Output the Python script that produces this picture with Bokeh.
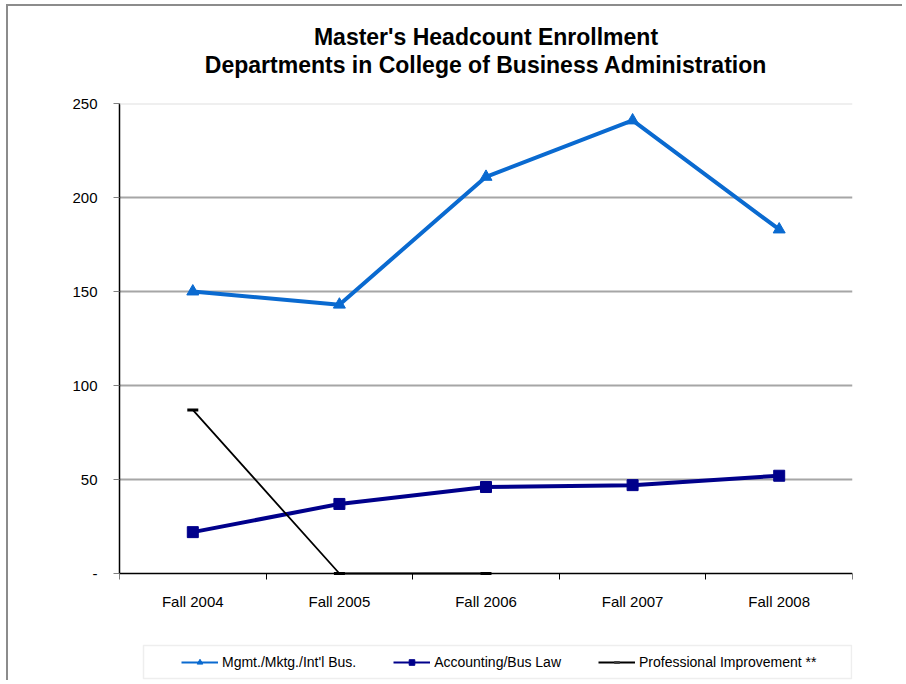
from bokeh.plotting import figure
from bokeh.models import (FixedTicker, Legend, LegendItem, Title, Span, Range1d, BoxAnnotation)
from bokeh.embed import file_html
from bokeh.resources import INLINE

categories = ["Fall 2004", "Fall 2005", "Fall 2006", "Fall 2007", "Fall 2008"]
mgmt = [150, 143, 211, 241, 183]
accounting = [22, 37, 46, 47, 52]
prof_categories = ["Fall 2004", "Fall 2005", "Fall 2006"]
professional = [87, 0, 0]
y_ticks = [0, 50, 100, 150, 200, 250]
y_tick_labels = ["-", "50", "100", "150", "200", "250"]
series_names = ["Mgmt./Mktg./Int'l Bus.", "Accounting/Bus Law", "Professional Improvement **"]
title_lines = ["Master's Headcount Enrollment", "Departments in College of Business Administration"]

pos = {c: i + 0.5 for i, c in enumerate(categories)}
x_all = [pos[c] for c in categories]
x_prof = [pos[c] for c in prof_categories]

FONT = "Liberation Sans"
NAN = [float("nan")]   # legend-key proxies: nothing is drawn in the plot area

# layout (pixels)
FRAME_W = 733
DATA_H = 470        # height used by the 0..250 value band
EXTRA_H = 107       # area below zero that holds the tick labels and legend
Y_MAX = 250
y_min = -EXTRA_H * Y_MAX / DATA_H
PX_X = FRAME_W / len(categories)
PX_Y = DATA_H / Y_MAX

p = figure(frame_width=FRAME_W, frame_height=DATA_H + EXTRA_H, output_backend="svg", toolbar_location=None,
           x_range=Range1d(0, len(categories)), y_range=Range1d(y_min, Y_MAX),
           min_border_left=111, min_border_right=50, min_border_top=97, min_border_bottom=0)
p.styles = {"border-left": "2px solid #8c8c8c", "border-top": "2px solid #8c8c8c",
            "margin-left": "6px", "margin-top": "4px"}
p.background_fill_color = "white"
p.border_fill_color = "white"
p.outline_line_color = None
p.title = None

spacer = Title(text=" ", text_font=FONT, text_font_size="2px", standoff=22)
t2 = Title(text=title_lines[1], align="center",
           text_font=FONT, text_font_size="23px", text_font_style="bold",
           text_color="black", standoff=0)
t1 = Title(text=title_lines[0], align="center",
           text_font=FONT, text_font_size="23px", text_font_style="bold",
           text_color="black", standoff=0)
p.add_layout(spacer, "above")
p.add_layout(t2, "above")
p.add_layout(t1, "above")

# axes
p.xaxis.fixed_location = 0
p.xaxis.ticker = FixedTicker(ticks=x_all, minor_ticks=list(range(len(categories) + 1)))
p.xaxis.major_label_overrides = {pos[c]: c for c in categories}
p.xaxis.major_tick_out = 0
p.xaxis.major_tick_in = 0
p.xaxis.minor_tick_out = 6
p.xaxis.minor_tick_in = 0
p.xaxis.minor_tick_line_color = "black"
p.xaxis.axis_line_color = "black"
p.xaxis.axis_line_width = 1.5
p.xaxis.major_label_standoff = 13
p.xaxis.major_label_text_font = FONT
p.xaxis.major_label_text_font_size = "15px"
p.xaxis.major_label_text_color = "black"

p.yaxis.bounds = (0, Y_MAX)
p.yaxis.ticker = FixedTicker(ticks=y_ticks, minor_ticks=[])
p.yaxis.major_label_overrides = {t: l for t, l in zip(y_ticks, y_tick_labels)}
p.yaxis.major_tick_out = 6
p.yaxis.major_tick_in = 0
p.yaxis.major_tick_line_color = "#808080"
p.yaxis.axis_line_color = "black"
p.yaxis.axis_line_width = 1.5
p.yaxis.major_label_standoff = 16
p.yaxis.major_label_text_font = FONT
p.yaxis.major_label_text_font_size = "15px"
p.yaxis.major_label_text_color = "black"

p.xgrid.visible = False
p.ygrid.ticker = FixedTicker(ticks=[50, 100, 150, 200])
p.ygrid.grid_line_color = "#a6a6a6"
p.ygrid.grid_line_width = 2
p.add_layout(Span(location=Y_MAX, dimension="width", line_color="#e0e0e0", line_width=2))

# series
mgmt_color = "#0A6AD0"
acct_color = "#00008B"

p.line(x_all, mgmt, line_color=mgmt_color, line_width=4)
p.scatter(x_all, mgmt, marker="triangle", size=12, fill_color=mgmt_color, line_color=mgmt_color)
p.line(x_all, accounting, line_color=acct_color, line_width=4)
p.scatter(x_all, accounting, marker="square", size=11, fill_color=acct_color, line_color=acct_color)
p.line(x_prof, professional, line_color="black", line_width=1.8)
p.scatter(x_prof, professional, marker="dash", size=11, line_color="black", line_width=3)

# legend keys (thinner, as in the reference legend)
k1l = p.line(NAN, NAN, line_color=mgmt_color, line_width=2)
k1m = p.scatter(NAN, NAN, marker="triangle", size=9, fill_color=mgmt_color, line_color=mgmt_color)
k2l = p.line(NAN, NAN, line_color=acct_color, line_width=2)
k2m = p.scatter(NAN, NAN, marker="square", size=8, fill_color=acct_color, line_color=acct_color)
k3l = p.line(NAN, NAN, line_color="black", line_width=2)
k3m = p.scatter(NAN, NAN, marker="dash", size=8, line_color="#404040", line_width=3)

# legend frame
p.add_layout(BoxAnnotation(left=(143 - 119) / PX_X, right=(851 - 119) / PX_X,
                           top=-(645 - 573) / PX_Y, bottom=-(678 - 573) / PX_Y,
                           fill_color="white", fill_alpha=1.0,
                           line_color="#c8c8c8", line_width=1.5))

legend = Legend(items=[
    LegendItem(label=series_names[0], renderers=[k1l, k1m]),
    LegendItem(label=series_names[1], renderers=[k2l, k2m]),
    LegendItem(label=series_names[2], renderers=[k3l, k3m]),
], orientation="horizontal", location=(53, 1), margin=0,
    label_text_font=FONT, label_text_font_size="14px", label_text_color="black",
    glyph_width=37, glyph_height=14, label_standoff=4, spacing=37, padding=9,
    border_line_alpha=0, background_fill_alpha=0)
p.add_layout(legend, "center")

open("out.html", "w").write(file_html(p, INLINE))
